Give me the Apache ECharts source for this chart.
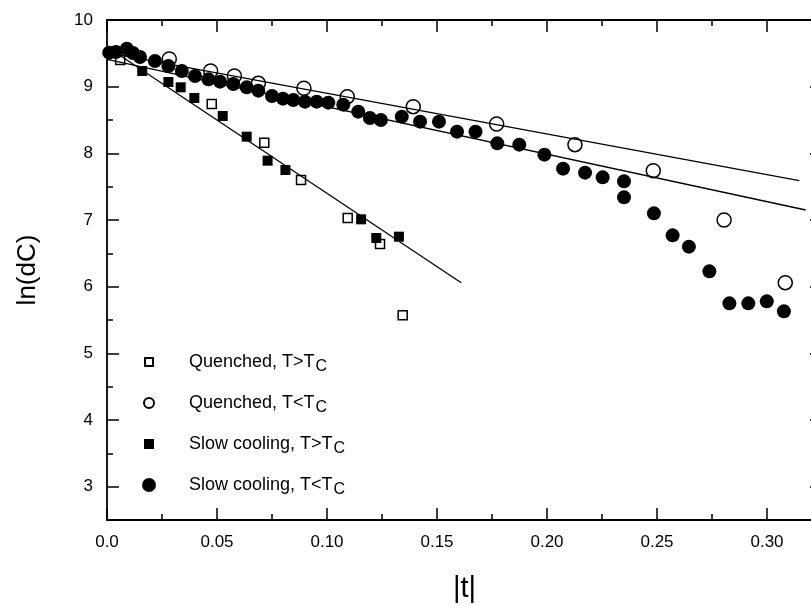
<!DOCTYPE html>
<html><head><meta charset="utf-8">
<script src="https://cdn.jsdelivr.net/npm/echarts@6/dist/echarts.min.js"></script>
<style>html,body{margin:0;padding:0;background:#fff}#c{width:811px;height:606px}</style>
</head><body><div id="c"></div>
<script>
// tick positions / labels
const xMajorTicks = [0, 0.05, 0.10, 0.15, 0.20, 0.25, 0.30];
const xMinorTicks = [0.025, 0.075, 0.125, 0.175, 0.225, 0.275];
const yMajorTicks = [3, 4, 5, 6, 7, 8, 9, 10];
const yMinorTicks = [3.5, 4.5, 5.5, 6.5, 7.5, 8.5, 9.5];

// series names
const nameQA = 'Quenched, T>T_C';
const nameQB = 'Quenched, T<T_C';
const nameSA = 'Slow cooling, T>T_C';
const nameSB = 'Slow cooling, T<T_C';

// Quenched, T>Tc (open squares)
const quenchedAbove = [
  [0.006, 9.40], [0.0476, 8.74], [0.0715, 8.16], [0.0882, 7.60],
  [0.1094, 7.03], [0.1241, 6.64], [0.1344, 5.57]
];
// Quenched, T<Tc (open circles)
const quenchedBelow = [
  [0.0283, 9.415], [0.0471, 9.235], [0.0579, 9.16], [0.0688, 9.05],
  [0.0895, 8.976], [0.1092, 8.85], [0.1392, 8.70], [0.1771, 8.44],
  [0.2127, 8.13], [0.2483, 7.74], [0.2805, 7.00], [0.3083, 6.06]
];
// Slow cooling, T>Tc (filled squares)
const slowAbove = [
  [0.004, 9.52], [0.016, 9.235], [0.0279, 9.07], [0.0335, 8.99], [0.0397, 8.83],
  [0.0526, 8.56], [0.0635, 8.25], [0.073, 7.89], [0.0811, 7.75],
  [0.1155, 7.01], [0.1224, 6.73], [0.1327, 6.75]
];
// Slow cooling, T<Tc (filled circles)
const slowBelow = [
  [0.001, 9.51], [0.0041, 9.52], [0.009, 9.57], [0.0118, 9.505], [0.015, 9.445],
  [0.0218, 9.385], [0.0279, 9.31], [0.034, 9.235], [0.04, 9.16], [0.0461, 9.11],
  [0.0514, 9.075], [0.0574, 9.04], [0.0635, 8.99], [0.0688, 8.94], [0.075, 8.86],
  [0.08, 8.82], [0.0847, 8.80], [0.09, 8.775], [0.0953, 8.775], [0.1006, 8.76],
  [0.1074, 8.73], [0.1142, 8.625], [0.1195, 8.53], [0.1245, 8.50], [0.134, 8.55],
  [0.1423, 8.475], [0.1509, 8.475], [0.1591, 8.325], [0.1675, 8.325], [0.1774, 8.15],
  [0.1874, 8.13], [0.1988, 7.98], [0.2073, 7.77], [0.2173, 7.71], [0.2253, 7.64],
  [0.235, 7.58], [0.235, 7.34], [0.2486, 7.10], [0.2571, 6.77], [0.2645, 6.60],
  [0.2738, 6.23], [0.2829, 5.75], [0.2915, 5.75], [0.2999, 5.78], [0.3077, 5.63]
];
// fitted lines
const fitQuenchedAbove = [[0, 9.60], [0.161, 6.06]];
const fitQuenchedBelow = [[0, 9.51], [0.3147, 7.59]];
const fitSlowBelow = [[0, 9.41], [0.3176, 7.15]];

const FONT = 'Liberation Sans, Arial, sans-serif';
const xMin = 0, xMax = 0.325, yMin = 2.5, yMax = 10;
const lineStyle = { color: '#000', width: 1.8 };

function xAxisDef(pos, major, withLine, withLabels) {
  return {
    type: 'value', position: pos, min: xMin, max: xMax,
    splitLine: { show: false },
    axisLine: { show: withLine, onZero: false, lineStyle: lineStyle },
    axisTick: { show: true, inside: true, length: major ? 12 : 6,
      customValues: major ? xMajorTicks : xMinorTicks, lineStyle: { color: '#000', width: 1.5 } },
    axisLabel: { show: withLabels, customValues: xMajorTicks, margin: 14,
      color: '#000', fontSize: 17, fontFamily: FONT,
      formatter: v => (v === 0 ? '0.0' : v.toFixed(2)) }
  };
}
function yAxisDef(pos, major, withLine, withLabels) {
  return {
    type: 'value', position: pos, min: yMin, max: yMax,
    splitLine: { show: false },
    axisLine: { show: withLine, onZero: false, lineStyle: lineStyle },
    axisTick: { show: true, inside: true, length: major ? 12 : 6,
      customValues: major ? yMajorTicks : yMinorTicks, lineStyle: { color: '#000', width: 1.5 } },
    axisLabel: { show: withLabels, customValues: yMajorTicks, margin: 14,
      color: '#000', fontSize: 17, fontFamily: FONT, formatter: v => String(v) }
  };
}

const xAxes = [
  xAxisDef('bottom', true, true, true),
  xAxisDef('bottom', false, false, false),
  xAxisDef('top', true, true, false),
  xAxisDef('top', false, false, false)
];
Object.assign(xAxes[0], {
  name: '|t|', nameLocation: 'middle', nameGap: 54,
  nameTextStyle: { fontSize: 29, fontFamily: FONT, color: '#000' }
});
const yAxes = [
  yAxisDef('left', true, true, true),
  yAxisDef('left', false, false, false),
  yAxisDef('right', true, true, false),
  yAxisDef('right', false, false, false)
];
Object.assign(yAxes[0], {
  name: 'ln(dC)', nameLocation: 'middle', nameGap: 66, nameRotate: 90,
  nameTextStyle: { fontSize: 26, fontFamily: FONT, color: '#000' }
});

function scatter(name, data, symbol, size, filled) {
  return {
    type: 'scatter', name: name, data: data, symbol: symbol, symbolSize: size,
    z: 3,
    itemStyle: filled ? { color: '#000', borderColor: '#000', borderWidth: 0, opacity: 1 }
                      : { color: 'rgba(255,255,255,0)', borderColor: '#000', borderWidth: 1.5, opacity: 1 },
    emphasis: { disabled: true }
  };
}
function fit(data) {
  return { type: 'line', data: data, symbol: 'none', z: 2, silent: true,
    lineStyle: { color: '#000', width: 1.3 }, emphasis: { disabled: true } };
}

const chart = echarts.init(document.getElementById('c'), null, { renderer: 'canvas' });
chart.setOption({
  animation: false,
  backgroundColor: '#fff',
  grid: { left: 107, width: 715, top: 20, height: 500, containLabel: false, outerBoundsMode: 'none' },
  xAxis: xAxes,
  yAxis: yAxes,
  legend: {
    data: [
      { name: nameQA, icon: 'path://M0,0M14,14M3,3H11V11H3Z' },
      { name: nameQB, icon: 'path://M0,0M14,14M2,7A5,5,0,1,0,12,7A5,5,0,1,0,2,7Z' },
      { name: nameSA, icon: 'path://M0,0M14,14M2,2H12V12H2Z' },
      { name: nameSB, icon: 'circle' }
    ],
    orient: 'vertical', left: 136, top: 348,
    itemWidth: 14, itemHeight: 14, itemGap: 19,
    selectedMode: false,
    formatter: n => n.replace('_C', '{sub|C}'),
    textStyle: {
      fontSize: 18, fontFamily: FONT, color: '#000', padding: [0, 0, 0, 28],
      rich: { sub: { fontSize: 16, fontFamily: FONT, color: '#000', padding: [10, 0, 0, 1] } }
    }
  },
  series: [
    fit(fitQuenchedAbove), fit(fitQuenchedBelow), fit(fitSlowBelow),
    scatter(nameQA, quenchedAbove, 'rect', 9, false),
    scatter(nameQB, quenchedBelow, 'circle', 14, false),
    scatter(nameSA, slowAbove, 'rect', 10, true),
    scatter(nameSB, slowBelow, 'circle', 14, true)
  ]
});
</script></body></html>
